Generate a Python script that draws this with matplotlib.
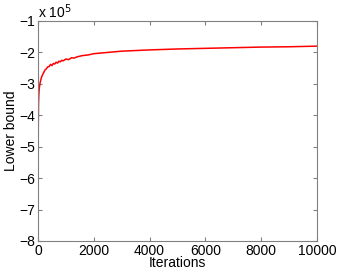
import numpy as np
import matplotlib.pyplot as plt

plt.rcParams['font.family'] = ['Liberation Sans', 'DejaVu Sans']

# lower bound (x 1e5) versus iteration
iters = [1, 3, 6, 10, 15, 20, 30, 40, 60, 80, 100, 130, 160, 200, 250, 300,
         350, 400, 450, 500, 550, 600, 650, 700, 750, 800, 850, 900, 1000,
         1100, 1200, 1300, 1400, 1600, 1800, 2000, 2500, 3000, 3500, 4000,
         5000, 6000, 7000, 8000, 9000, 10000]
bound = [-7.9, -6.5, -5.3, -4.4, -3.9, -3.6, -3.35, -3.2, -3.05, -2.95, -2.88,
         -2.78, -2.72, -2.65, -2.56, -2.52, -2.46, -2.45, -2.38, -2.42, -2.35,
         -2.37, -2.31, -2.34, -2.28, -2.30, -2.25, -2.27, -2.21, -2.23, -2.17,
         -2.18, -2.14, -2.10, -2.08, -2.04, -2.00, -1.96, -1.94, -1.92, -1.89,
         -1.87, -1.85, -1.83, -1.82, -1.80]
xticks = [0, 2000, 4000, 6000, 8000, 10000]
yticks = [-8, -7, -6, -5, -4, -3, -2, -1]

fig = plt.figure(figsize=(3.38, 2.72), dpi=100)
ax = fig.add_axes([0.1124, 0.114, 0.8254, 0.8088])
ax.plot(iters, bound, color='red', lw=1.1)

ax.set_xlim(0, 10000)
ax.set_ylim(-8, -1)
ax.set_xticks(xticks)
ax.set_yticks(yticks)
ax.tick_params(direction='in', length=3, top=True, right=True,
               labelsize=10, color='#808080', pad=2)
for s in ax.spines.values():
    s.set_color('#808080')
    s.set_linewidth(0.8)

ax.set_xlabel('Iterations', fontsize=10, labelpad=-1)
ax.set_ylabel('Lower bound', fontsize=10, labelpad=1)
ax.text(0.0, 1.0, r'x 10$^5$', transform=ax.transAxes, fontsize=10,
        ha='left', va='bottom')

fig.savefig('out.png', dpi=100)
